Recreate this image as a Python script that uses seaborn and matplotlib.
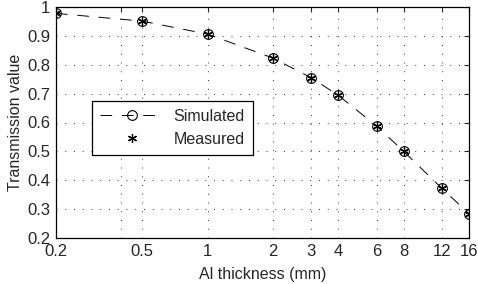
import matplotlib
matplotlib.use("Agg")
import matplotlib.pyplot as plt
import seaborn as sns
import pandas as pd
from matplotlib.lines import Line2D

thickness = [0.2, 0.5, 1, 2, 3, 4, 6, 8, 12, 16]
simulated = [0.978, 0.951, 0.906, 0.823, 0.755, 0.694, 0.588, 0.500, 0.372, 0.284]
measured = [0.978, 0.951, 0.906, 0.823, 0.755, 0.694, 0.588, 0.500, 0.372, 0.284]
xtick_vals = [0.2, 0.5, 1, 2, 3, 4, 6, 8, 12, 16]
xtick_labels = ["0.2", "0.5", "1", "2", "3", "4", "6", "8", "12", "16"]
ytick_vals = [0.2, 0.3, 0.4, 0.5, 0.6, 0.7, 0.8, 0.9, 1.0]
ytick_labels = ["0.2", "0.3", "0.4", "0.5", "0.6", "0.7", "0.8", "0.9", "1"]

sns.set_style("white")
plt.rcParams['font.family'] = ['Liberation Sans', 'DejaVu Sans']

df = pd.DataFrame({"x": thickness, "sim": simulated, "meas": measured})

fig = plt.figure(figsize=(4.78, 2.84), dpi=100)
ax = fig.add_axes([56/478, 46/284, 413/478, 231/284])
ax.set_xscale("log")

DASH = [12, 10]
sns.lineplot(data=df, x="x", y="sim", ax=ax, color="black", linewidth=0.7,
             marker="o", markersize=7, markerfacecolor="none",
             markeredgecolor="black", markeredgewidth=0.8)
ax.lines[-1].set_dashes(DASH)
sns.scatterplot(data=df, x="x", y="meas", ax=ax, marker=(6, 2, 0), s=38,
                color="black", linewidth=0.9, edgecolor="black", zorder=5)

ax.set_xlim(0.2, 16)
ax.set_ylim(0.2, 1.0)
ax.set_xticks(xtick_vals)
ax.set_xticklabels(xtick_labels)
ax.set_xticks([0.4], minor=True)
ax.set_xticklabels([""], minor=True)
ax.set_yticks(ytick_vals)
ax.set_yticklabels(ytick_labels)
ax.tick_params(axis="both", which="both", direction="in", length=3.5, width=0.8,
               top=True, right=True, labelsize=12, pad=4)
ax.grid(True, which="both", linestyle=(0, (1, 8)), color="black", linewidth=0.7, alpha=0.8)
for s in ax.spines.values():
    s.set_visible(True)
    s.set_color("black")
    s.set_linewidth(0.9)

ax.set_xlabel("Al thickness (mm)", fontsize=11.5, labelpad=6)
ax.set_ylabel("Transmission value", fontsize=11.5, labelpad=3)

handles = [
    Line2D([], [], color="black", linewidth=0.7, dashes=DASH, marker="o",
           markersize=7, markerfacecolor="none", markeredgecolor="black", markeredgewidth=0.8),
    Line2D([], [], color="black", linestyle="none", marker=(6, 2, 0), markersize=6.5,
           markeredgewidth=0.9),
]
leg = ax.legend(handles, ["Simulated", "Measured"], loc="upper left",
                bbox_to_anchor=(0.087, 0.594), borderaxespad=0, fontsize=11.5,
                frameon=True, fancybox=False, edgecolor="black", framealpha=1,
                handlelength=4.0, borderpad=0.5, labelspacing=0.5, handletextpad=0.6)
leg.get_frame().set_linewidth(0.9)

fig.savefig("out.png", dpi=100)
